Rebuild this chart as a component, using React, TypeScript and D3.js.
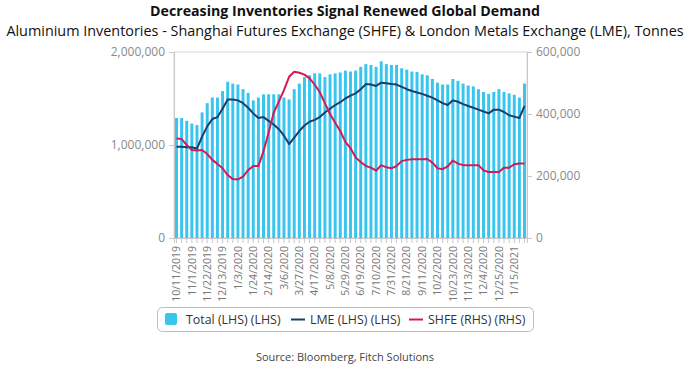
import React, { useRef, useEffect } from 'react';
import * as d3 from 'd3';

// weekly dates, 10/11/2019 .. 1/29/2021
const startDate = new Date(2019, 9, 11);
const weeks = d3.range(69).map(i => d3.timeDay.offset(startDate, i * 7));
const fmtDate = (d: Date) => `${d.getMonth() + 1}/${d.getDate()}/${d.getFullYear()}`;

// Total (LHS), millions of tonnes
const totalValues = [
  1.29, 1.29, 1.26, 1.23, 1.215, 1.35, 1.45, 1.51, 1.51, 1.58,
  1.68, 1.66, 1.65, 1.60, 1.56, 1.48, 1.51, 1.545, 1.545, 1.545,
  1.545, 1.51, 1.49, 1.60, 1.66, 1.73, 1.75, 1.77, 1.77, 1.73,
  1.76, 1.77, 1.78, 1.80, 1.79, 1.80, 1.84, 1.87, 1.86, 1.84,
  1.90, 1.87, 1.86, 1.86, 1.825, 1.81, 1.79, 1.785, 1.76, 1.75,
  1.71, 1.67, 1.65, 1.65, 1.71, 1.69, 1.66, 1.64, 1.63, 1.60,
  1.57, 1.55, 1.57, 1.60, 1.57, 1.555, 1.54, 1.51, 1.66
];

// LME (LHS), millions of tonnes
const lmeValues = [
  0.98, 0.98, 0.975, 0.975, 0.96, 1.09, 1.20, 1.28, 1.30, 1.39,
  1.49, 1.49, 1.48, 1.45, 1.40, 1.34, 1.29, 1.30, 1.26, 1.22,
  1.17, 1.10, 1.01, 1.08, 1.15, 1.21, 1.25, 1.27, 1.30, 1.35,
  1.39, 1.43, 1.46, 1.50, 1.53, 1.555, 1.60, 1.655, 1.65, 1.635,
  1.67, 1.665, 1.655, 1.65, 1.625, 1.60, 1.58, 1.565, 1.55, 1.53,
  1.51, 1.48, 1.45, 1.43, 1.48, 1.465, 1.44, 1.42, 1.40, 1.38,
  1.36, 1.34, 1.38, 1.38, 1.355, 1.32, 1.305, 1.29, 1.42
];

// SHFE (RHS), thousands of tonnes
const shfeValues = [
  321, 319, 300, 284, 282, 284, 271, 252, 239, 225,
  203, 190, 189, 198, 219, 232, 232, 280, 340, 405,
  440, 477, 520, 536, 533, 527, 515, 495, 470, 435,
  400, 372, 345, 310, 290, 260, 245, 232, 227, 217,
  235, 228, 225, 232, 248, 252, 254, 254, 254, 255,
  243, 225, 222, 231, 250, 240, 235, 235, 235, 235,
  218, 213, 213, 213, 227, 227, 238, 240, 240
];

const leftTicks = [0, 1000000, 2000000];
const rightTicks = [0, 200000, 400000, 600000];

const FONT = '"Open Sans", sans-serif';
const BAR_COLOR = '#38c5ef';
const LME_COLOR = '#1d3c6b';
const SHFE_COLOR = '#d21b4f';

const App = () => {
  const svgRef = useRef<SVGSVGElement>(null);

  useEffect(() => {
    const svg = d3.select(svgRef.current);
    svg.selectAll('*').remove();

    const width = 690;
    const height = 371;
    const margin = { top: 52, right: 163, bottom: 133, left: 174 };
    const innerWidth = width - margin.left - margin.right;
    const innerHeight = height - margin.top - margin.bottom;

    const data = weeks.map((d, i) => ({
      date: d,
      label: fmtDate(d),
      total: totalValues[i] * 1e6,
      lme: lmeValues[i] * 1e6,
      shfe: shfeValues[i] * 1e3,
    }));

    const x = d3.scaleBand<string>()
      .domain(data.map(d => d.label))
      .range([0, innerWidth])
      .paddingInner(0.42)
      .paddingOuter(0.2);

    const yLeft = d3.scaleLinear().domain([0, 2000000]).range([innerHeight, 0]);
    const yRight = d3.scaleLinear().domain([0, 600000]).range([innerHeight, 0]);

    // titles
    svg.append('text')
      .attr('x', width / 2)
      .attr('y', 16)
      .attr('text-anchor', 'middle')
      .style('font-family', FONT)
      .style('font-weight', 700)
      .style('font-size', '14.2px')
      .style('fill', '#111')
      .text('Decreasing Inventories Signal Renewed Global Demand');

    svg.append('text')
      .attr('x', width / 2)
      .attr('y', 36)
      .attr('text-anchor', 'middle')
      .style('font-family', FONT)
      .style('font-size', '14.4px')
      .style('fill', '#111')
      .text('Aluminium Inventories - Shanghai Futures Exchange (SHFE) & London Metals Exchange (LME), Tonnes');

    const g = svg.append('g').attr('transform', `translate(${margin.left},${margin.top})`);

    // plot frame
    g.append('rect')
      .attr('x', 0)
      .attr('y', 0)
      .attr('width', innerWidth)
      .attr('height', innerHeight)
      .style('fill', 'none')
      .style('stroke', '#d6d6d6')
      .style('stroke-width', 1);

    // bars
    g.selectAll('.bar')
      .data(data)
      .enter().append('rect')
      .attr('class', 'bar')
      .attr('x', d => x(d.label)!)
      .attr('y', d => yLeft(d.total))
      .attr('width', x.bandwidth())
      .attr('height', d => innerHeight - yLeft(d.total))
      .style('fill', BAR_COLOR);

    const cx = (d: any) => x(d.label)! + x.bandwidth() / 2;

    g.append('path')
      .datum(data)
      .attr('d', d3.line<any>().x(cx).y(d => yLeft(d.lme)))
      .style('fill', 'none')
      .style('stroke', LME_COLOR)
      .style('stroke-width', 2)
      .style('stroke-linejoin', 'round');

    g.append('path')
      .datum(data)
      .attr('d', d3.line<any>().x(cx).y(d => yRight(d.shfe)))
      .style('fill', 'none')
      .style('stroke', SHFE_COLOR)
      .style('stroke-width', 2)
      .style('stroke-linejoin', 'round');

    // axes
    const fmt = d3.format(',');
    const leftAxis = g.append('g')
      .call(d3.axisLeft(yLeft).tickValues(leftTicks).tickFormat(d => fmt(d as number)).tickSize(5).tickPadding(4));
    const rightAxis = g.append('g')
      .attr('transform', `translate(${innerWidth},0)`)
      .call(d3.axisRight(yRight).tickValues(rightTicks).tickFormat(d => fmt(d as number)).tickSize(5).tickPadding(4));
    const xAxis = g.append('g')
      .attr('transform', `translate(0,${innerHeight})`)
      .call(d3.axisBottom(x)
        .tickSize(5)
        .tickFormat((d, i) => (i % 3 === 0 ? d : '')));

    [leftAxis, rightAxis, xAxis].forEach(axis => {
      axis.selectAll('path, line')
        .style('stroke', '#c8c8c8')
        .style('stroke-width', 1);
      axis.selectAll('text')
        .style('fill', '#8a8a8a')
        .style('font-size', '12px')
        .style('font-family', FONT);
    });

    xAxis.selectAll('text')
      .attr('transform', 'rotate(-90)')
      .attr('x', -8)
      .attr('y', 0)
      .attr('dy', '0.35em')
      .style('text-anchor', 'end')
      .style('fill', '#777')
      .style('font-size', '10.5px');

    // legend
    const legend = svg.append('g').attr('transform', 'translate(157,307)');
    legend.append('rect')
      .attr('x', 0.5)
      .attr('y', 0.5)
      .attr('width', 376)
      .attr('height', 24)
      .attr('rx', 5)
      .style('fill', 'white')
      .style('stroke', '#bdbdbd');

    const legendText = (tx: number, s: string) =>
      legend.append('text')
        .attr('x', tx)
        .attr('y', 17)
        .style('font-family', FONT)
        .style('font-size', '12.4px')
        .style('fill', '#333')
        .text(s);

    legend.append('rect')
      .attr('x', 8)
      .attr('y', 6)
      .attr('width', 12)
      .attr('height', 12)
      .attr('rx', 2)
      .style('fill', BAR_COLOR);
    legendText(29, 'Total (LHS) (LHS)');

    legend.append('line')
      .attr('x1', 134).attr('x2', 148).attr('y1', 12.5).attr('y2', 12.5)
      .style('stroke', LME_COLOR).style('stroke-width', 2);
    legendText(153, 'LME (LHS) (LHS)');

    legend.append('line')
      .attr('x1', 252).attr('x2', 266).attr('y1', 12.5).attr('y2', 12.5)
      .style('stroke', SHFE_COLOR).style('stroke-width', 2);
    legendText(271, 'SHFE (RHS) (RHS)');

    svg.append('text')
      .attr('x', width / 2)
      .attr('y', 361)
      .attr('text-anchor', 'middle')
      .style('font-family', FONT)
      .style('font-size', '11px')
      .style('fill', '#444')
      .text('Source: Bloomberg, Fitch Solutions');
  }, []);

  return (
    <div style={{ position: 'absolute', left: 0, top: 0 }}>
      <svg ref={svgRef} width={690} height={371} style={{ display: 'block', background: 'white' }} />
    </div>
  );
};

export default App;
